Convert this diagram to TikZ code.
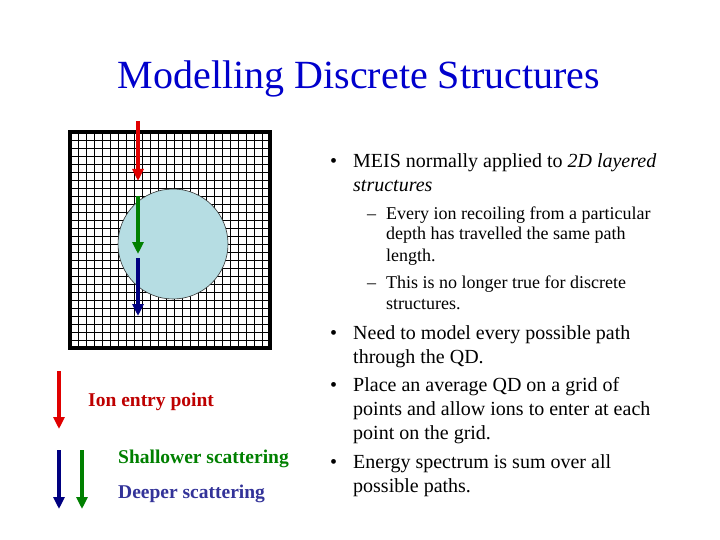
\documentclass[tikz,border=0pt]{standalone}
\usepackage{fontspec}
\setmainfont{Liberation Serif}
\usetikzlibrary{arrows.meta}
\definecolor{titleblue}{RGB}{0,0,204}
\definecolor{ionred}{RGB}{224,0,0}
\definecolor{shgreen}{RGB}{0,128,0}
\definecolor{deepnavy}{RGB}{0,0,128}
\definecolor{deeptext}{RGB}{51,51,153}
\definecolor{dotfill}{RGB}{182,221,227}
\tikzset{
  gridline/.style={line width=0.9pt, black},
  ionarrow/.style={line width=3.2pt, -{Triangle[width=11pt,length=12pt]}},
  bodytext/.style={anchor=base west, inner sep=0pt, font=\fontsize{20}{24}\selectfont},
  subtext/.style={anchor=base west, inner sep=0pt, font=\fontsize{18}{21}\selectfont},
  legendtext/.style={anchor=base west, inner sep=0pt, font=\fontsize{19.5}{22}\selectfont\bfseries},
}
\begin{document}
\begin{tikzpicture}[x=1pt,y=-1pt]
\useasboundingbox (0,0) rectangle (720,540);
\fill[white] (0,0) rectangle (720,540);
% title
\node[anchor=base, inner sep=0pt, text=titleblue, font=\fontsize{40}{44}\selectfont] (title) at (359,89) {Modelling Discrete Structures};
% grid
\foreach \i in {1,...,24} \draw[gridline] (70+8*\i,132) -- (70+8*\i,348);
\foreach \j in {1,...,26} \draw[gridline] (70,132+8*\j) -- (270,132+8*\j);
\draw[line width=4pt] (70,132) rectangle (270,348);
% quantum dot
\node[circle, draw=black!80, line width=0.6pt, fill=dotfill, minimum size=110pt, inner sep=0pt] (qd) at (173,244) {};
% arrows in grid
\coordinate (r1) at (138,121);
\coordinate (r2) at (138,181);
\coordinate (g1) at (138,196);
\coordinate (g2) at (138,254);
\coordinate (b1) at (138,258);
\coordinate (b2) at (138,316);
\draw[ionarrow, ionred] (r1) -- (r2);
\draw[ionarrow, shgreen] (g1) -- (g2);
\draw[ionarrow, deepnavy] (b1) -- (b2);
% legend
\coordinate (lr1) at (59,371);
\coordinate (lr2) at (59,429);
\coordinate (lb1) at (59,450);
\coordinate (lb2) at (59,509);
\coordinate (lg1) at (82,450);
\coordinate (lg2) at (82,509);
\draw[ionarrow, ionred] (lr1) -- (lr2);
\draw[ionarrow, deepnavy] (lb1) -- (lb2);
\draw[ionarrow, shgreen] (lg1) -- (lg2);
\node[legendtext, text=ionred!85!black] (lion) at (88,406) {Ion entry point};
\node[legendtext, text=shgreen] (lsh) at (118,463) {Shallower scattering};
\node[legendtext, text=deeptext] (ldp) at (118,498) {Deeper scattering};
% bullets
\node[bodytext] (b1a) at (330,168) {•};
\node[bodytext] (t1a) at (353,168) {MEIS normally applied to \textit{2D layered}};
\node[bodytext] (t1b) at (353,192) {\textit{structures}};
\node[subtext] (d1) at (367,219) {–};
\node[subtext] (s1a) at (386,219) {Every ion recoiling from a particular};
\node[subtext] (s1b) at (386,240) {depth has travelled the same path};
\node[subtext] (s1c) at (386,261) {length.};
\node[subtext] (d2) at (367,288) {–};
\node[subtext] (s2a) at (386,288) {This is no longer true for discrete};
\node[subtext] (s2b) at (386,309) {structures.};
\node[bodytext] (b2) at (330,339) {•};
\node[bodytext] (t2a) at (353,339) {Need to model every possible path};
\node[bodytext] (t2b) at (353,363) {through the QD.};
\node[bodytext] (b3) at (330,391) {•};
\node[bodytext] (t3a) at (353,391) {Place an average QD on a grid of};
\node[bodytext] (t3b) at (353,415) {points and allow ions to enter at each};
\node[bodytext] (t3c) at (353,439) {point on the grid.};
\node[bodytext] (b4) at (330,468) {•};
\node[bodytext] (t4a) at (353,468) {Energy spectrum is sum over all};
\node[bodytext] (t4b) at (353,492) {possible paths.};
\end{tikzpicture}
\end{document}
